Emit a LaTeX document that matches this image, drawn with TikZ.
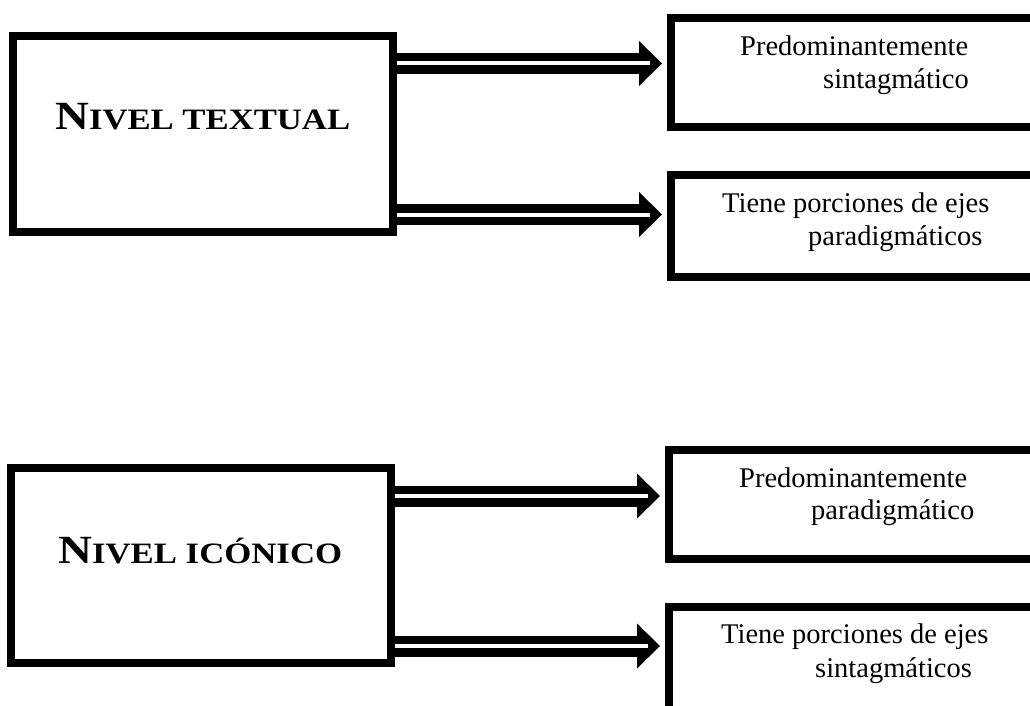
\documentclass[tikz,border=0pt]{standalone}
\usepackage{fontspec}
\setmainfont{Liberation Serif}
\usetikzlibrary{arrows.meta,calc}
\tikzset{
  lbox/.style={draw, line width=8pt, rectangle, inner sep=0pt,
    minimum width=379.5pt, minimum height=195pt},
  rbox/.style={draw, line width=8pt, rectangle, inner sep=0pt, minimum width=389pt},
  rtxt/.style={anchor=base west, inner sep=0pt, font=\fontsize{28.5}{30}\selectfont},
  ttl/.style={anchor=base west, inner sep=0pt},
  hollow/.style={line width=21pt,
    -{Triangle[length=23pt,width=45pt,line width=0pt]},
    postaction={draw=white, line width=4pt, -, shorten >=12pt}}
}
\newcommand{\bigN}{\fontsize{40}{40}\selectfont\bfseries}
\newcommand{\smallC}{\fontsize{29.6}{30}\selectfont\bfseries}
\begin{document}
\begin{tikzpicture}[x=1pt,y=-1pt]
\useasboundingbox (0,0) rectangle (1030,706);
\clip (0,0) rectangle (1030,706);
\fill[white] (0,0) rectangle (1030,706);

% left boxes
\node[lbox] (L1) at (202.75,134) {};
\node[lbox, minimum height=195.3pt] (L2) at (200.75,565.7) {};
\node[ttl] (T1) at (55,130) {\resizebox{295pt}{\height}{{\bigN N}{\smallC IVEL TEXTUAL}}};
\node[ttl] (T2) at (58,563) {\resizebox{284pt}{\height}{{\bigN N}{\smallC IVEL ICÓNICO}}};

% right boxes
\node[rbox, minimum height=108.5pt] (R1) at (865.5,72.75) {};
\node[rbox, minimum height=102pt] (R2) at (865.5,226) {};
\node[rbox, minimum height=108.5pt] (R3) at (863.5,504.25) {};
\node[rbox, minimum height=103pt] (R4) at (863.5,658.5) {};

% texts
\node[rtxt] (t1a) at (740,56) {Predominantemente};
\node[rtxt] (t1b) at (823,89) {sintagmático};
\node[rtxt] (t2a) at (722,212) {Tiene porciones de ejes};
\node[rtxt] (t2b) at (808,245) {paradigmáticos};
\node[rtxt] (t3a) at (739,487) {Predominantemente};
\node[rtxt] (t3b) at (811,519) {paradigmático};
\node[rtxt] (t4a) at (721,643) {Tiene porciones de ejes};
\node[rtxt] (t4b) at (815,677) {sintagmáticos};

% arrows
\path (L1.east) ++(0,-70.5) coordinate (a1s);
\path (L1.east) ++(0,80.5) coordinate (a2s);
\path (L2.east) ++(0,-69.7) coordinate (a3s);
\path (L2.east) ++(0,80.3) coordinate (a4s);
\coordinate (a1e) at ($(R1.west |- a1s)+(-5,0)$);
\coordinate (a2e) at ($(R2.west |- a2s)+(-5,0)$);
\coordinate (a3e) at ($(R3.west |- a3s)+(-5,0)$);
\coordinate (a4e) at ($(R4.west |- a4s)+(-5,0)$);
\draw[hollow] (a1s) -- (a1e);
\draw[hollow] (a2s) -- (a2e);
\draw[hollow] (a3s) -- (a3e);
\draw[hollow] (a4s) -- (a4e);
\end{tikzpicture}
\end{document}
